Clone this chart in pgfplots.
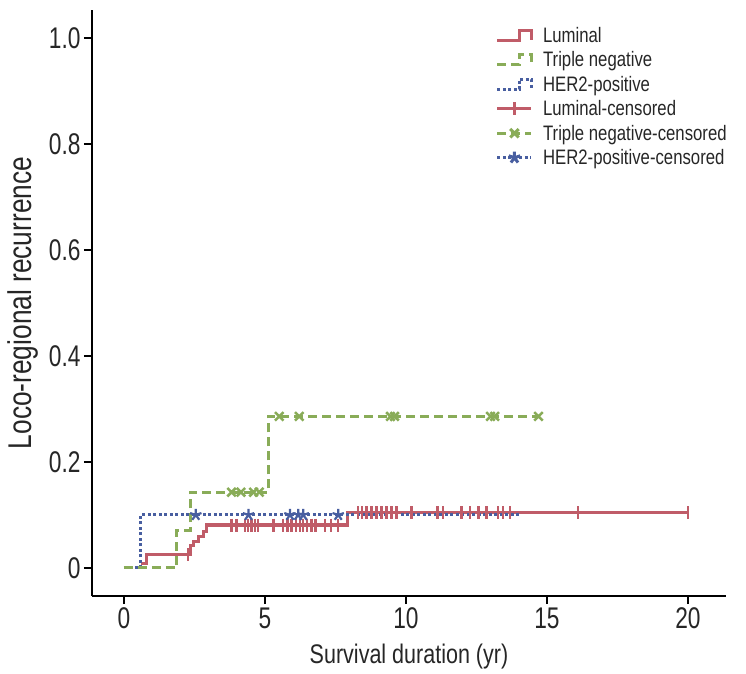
\documentclass[border=0pt]{standalone}
\usepackage{fontspec}
\setmainfont{Liberation Sans}[FakeStretch=0.8]
\newfontfamily\tickfont{Liberation Sans}[FakeStretch=0.76]
\usepackage{pgfplots}
\pgfplotsset{compat=1.18}

\definecolor{lumred}{RGB}{192,92,104}
\definecolor{tngreen}{RGB}{137,172,88}
\definecolor{herblue}{RGB}{72,94,160}

\pgfplotsset{
  steplegend/.style={legend image code/.code={
    \draw[##1] (0bp,-5bp) -- (22bp,-5bp) -- (22bp,5bp) -- (34bp,5bp) -- (34bp,-5bp);}},
  censlegend/.style={legend image code/.code={
    \draw[mark repeat=2,mark phase=2,##1] plot coordinates {(0bp,0bp) (17bp,0bp) (34bp,0bp)};}},
  lum/.style={color=lumred, line width=3.2bp},
  tn/.style={color=tngreen, line width=3bp, dash pattern=on 9bp off 5bp},
  her/.style={color=herblue, line width=3bp, dash pattern=on 3bp off 2.5bp},
}

\begin{document}
\begin{tikzpicture}
\begin{axis}[
  scale only axis,
  width=634bp, height=586bp,
  xmin=-1.13, xmax=21.35,
  ymin=-0.053, ymax=1.053,
  axis lines=left,
  axis line style={line width=2.5bp, black, -},
  tick align=outside,
  major tick length=8bp,
  tick style={line width=2bp, black},
  xtick={0,5,10,15,20},
  xticklabels={0,5,10,15,20},
  ytick={0,0.2,0.4,0.6,0.8,1},
  yticklabels={0,0.2,0.4,0.6,0.8,1.0},
  ticklabel style={font=\tickfont\fontsize{30}{34}\selectfont, text=black!85},
  xlabel={Survival duration (yr)},
  ylabel={Loco-regional recurrence},
  xlabel style={font=\fontsize{27}{31}\selectfont, text=black!85, yshift=-8bp},
  ylabel style={font=\fontsize{33}{37}\selectfont, text=black!85, yshift=4bp},
  legend style={draw=none, fill=none, at={(rel axis cs:0.632,0.978)}, anchor=north west,
    font=\fontsize{21}{24}\selectfont, text=black!85,
    nodes={inner sep=2bp}, row sep=3.8bp,
    /tikz/every odd column/.append style={column sep=8bp}},
  legend cell align=left,
]

% step curves
\addplot[lum, const plot, forget plot] coordinates {
  (0.59,0.009) (0.80,0.025) (2.36,0.043) (2.46,0.050) (2.64,0.059)
  (2.81,0.069) (2.93,0.081) (7.93,0.104) (20.0,0.104)
};
\addplot[her, const plot, forget plot] coordinates {
  (0,0) (0.59,0.100) (14.04,0.100)
};
\addplot[tn, const plot, forget plot] coordinates {
  (0,0) (1.87,0.0714) (2.36,0.143) (5.12,0.286) (14.7,0.286)
};

% censored marks
\addplot[only marks, mark=|, mark size=6.5bp, color=lumred, line width=2.5bp, forget plot] coordinates {
  (2.28,0.025)
  (3.82,0.081) (4.0,0.081) (4.29,0.081) (4.41,0.081) (4.53,0.081) (4.65,0.081)
  (4.76,0.081) (5.3,0.081) (5.65,0.081) (5.8,0.081) (5.95,0.081) (6.1,0.081)
  (6.25,0.081) (6.36,0.081) (6.5,0.081) (6.65,0.081) (6.8,0.081) (7.13,0.081)
  (7.35,0.081) (7.6,0.081)
  (8.3,0.104) (8.45,0.104) (8.6,0.104) (8.78,0.104) (8.96,0.104) (9.14,0.104)
  (9.31,0.104) (9.49,0.104) (9.67,0.104) (10.2,0.104) (11.12,0.104) (11.32,0.104)
  (11.97,0.104) (12.27,0.104) (12.57,0.104) (12.86,0.104) (13.27,0.104)
  (13.45,0.104) (13.69,0.104) (16.1,0.104) (20.0,0.104)
};
\addplot[only marks, mark=star, mark size=6bp, color=herblue, line width=2.2bp, forget plot] coordinates {
  (2.55,0.1) (4.42,0.1) (5.89,0.1) (6.18,0.1) (6.36,0.1) (7.6,0.1)
};
\addplot[only marks, mark=x, mark size=6bp, color=tngreen, line width=2.5bp, forget plot] coordinates {
  (3.82,0.143) (4.15,0.143) (4.6,0.143) (4.8,0.143)
  (5.51,0.286) (6.22,0.286) (9.45,0.286) (9.6,0.286) (13.0,0.286) (13.15,0.286) (14.7,0.286)
};

% legend entries
\addlegendimage{lum, steplegend}
\addlegendimage{tn, steplegend}
\addlegendimage{her, steplegend}
\addlegendimage{lum, mark=|, mark size=6.5bp, mark options={solid}, censlegend}
\addlegendimage{tn, mark=x, mark size=6bp, mark options={solid}, censlegend}
\addlegendimage{her, mark=star, mark size=6bp, mark options={solid}, censlegend}
\legend{Luminal, Triple negative, HER2-positive, Luminal-censored,
  Triple negative-censored, HER2-positive-censored}

\end{axis}
\path ([shift={(-92bp,-78bp)}]current axis.south west) rectangle ([shift={(20bp,10bp)}]current axis.north east);
\end{tikzpicture}
\end{document}
